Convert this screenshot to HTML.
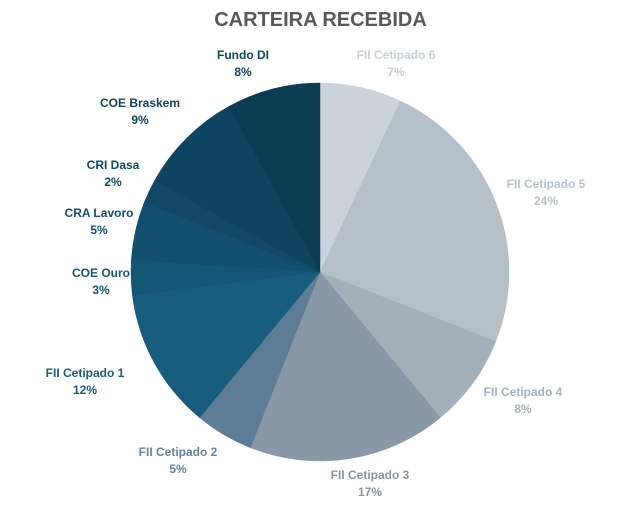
<!DOCTYPE html>
<html><head><style>
body{margin:0;background:#fff;}
.w{position:relative;width:641px;height:505px;font-family:"Liberation Sans",sans-serif;overflow:hidden}
.t{position:absolute;top:9px;left:0;width:641px;text-align:center;font-size:20px;font-weight:bold;color:#595959}
.l{position:absolute;font-size:12px;font-weight:bold;text-align:center;line-height:17px;transform:translateX(-50%);white-space:nowrap}
</style></head><body><div class="w">
<div class="t">CARTEIRA RECEBIDA</div>
<svg width="641" height="505" style="position:absolute;left:0;top:0" id="s"></svg>
<div class="l" style="left:243px;top:47px;color:#0f4460">Fundo DI<br>8%</div>
<div class="l" style="left:396px;top:47px;color:#c9d0d6">FII Cetipado 6<br>7%</div>
<div class="l" style="left:140px;top:95px;color:#0f4460">COE Braskem<br>9%</div>
<div class="l" style="left:546px;top:176px;color:#b8c1c9">FII Cetipado 5<br>24%</div>
<div class="l" style="left:113px;top:157px;color:#124966">CRI Dasa<br>2%</div>
<div class="l" style="left:99px;top:205px;color:#134f6e">CRA Lavoro<br>5%</div>
<div class="l" style="left:101px;top:265px;color:#155676">COE Ouro<br>3%</div>
<div class="l" style="left:85px;top:365px;color:#175c7d">FII Cetipado 1<br>12%</div>
<div class="l" style="left:523px;top:384px;color:#a6b1bb">FII Cetipado 4<br>8%</div>
<div class="l" style="left:178px;top:444px;color:#6a8399">FII Cetipado 2<br>5%</div>
<div class="l" style="left:370px;top:467px;color:#8694a2">FII Cetipado 3<br>17%</div>
</div>
<script>
var d=[[7,"#cbd2d9"],[24,"#b5bfc8"],[8,"#a3b0ba"],[17,"#8898a7"],[5,"#5e7c96"],[12,"#175c7d"],[3,"#155676"],[5,"#134f6e"],[2,"#124966"],[9,"#0f4460"],[8,"#0c3b54"]];
var cx=320,cy=272,r=189,a=0,h="";
d.forEach(function(s){var a2=a+s[0]/100*2*Math.PI;
var x1=cx+r*Math.sin(a),y1=cy-r*Math.cos(a),x2=cx+r*Math.sin(a2),y2=cy-r*Math.cos(a2);
h+='<path d="M'+cx+','+cy+'L'+x1+','+y1+'A'+r+','+r+' 0 '+(a2-a>Math.PI?1:0)+' 1 '+x2+','+y2+'Z" fill="'+s[1]+'" stroke="'+s[1]+'" stroke-width="0.5"/>';a=a2;});
document.getElementById("s").innerHTML=h;
</script>
</body></html>
